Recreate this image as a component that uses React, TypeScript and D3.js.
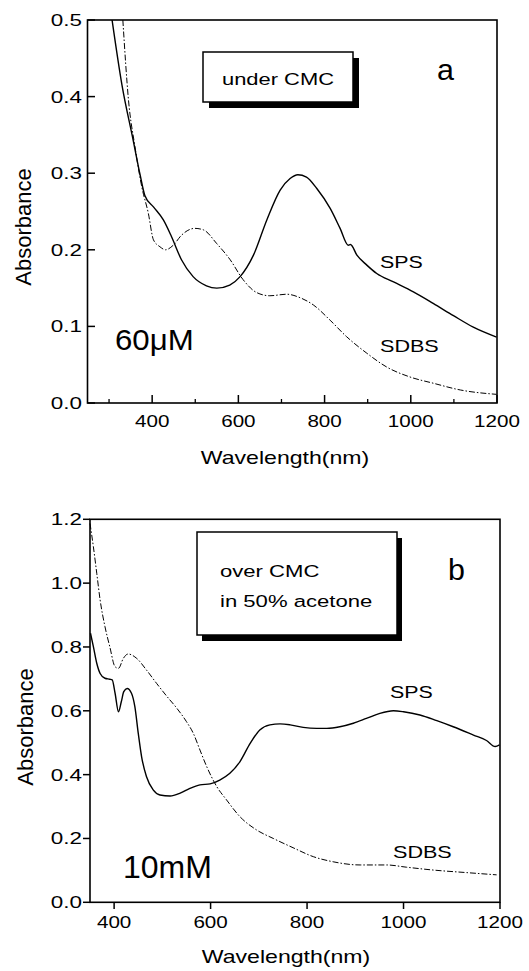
import React from "react";
import * as d3 from "d3";

// Panel a: 60 µM, under CMC
const spsA_wl = [307, 330, 356, 372, 383, 403, 426, 445, 468, 495, 526, 550, 580, 604, 635, 666, 697, 720, 738, 758, 782, 813, 836, 855, 860, 875, 898, 921, 960, 1006, 1052, 1099, 1145, 1199];
const spsA_abs = [0.5, 0.415, 0.343, 0.298, 0.271, 0.256, 0.239, 0.217, 0.187, 0.165, 0.153, 0.15, 0.154, 0.165, 0.193, 0.239, 0.278, 0.293, 0.298, 0.295, 0.28, 0.254, 0.228, 0.206, 0.207, 0.193, 0.18, 0.169, 0.158, 0.145, 0.13, 0.114, 0.099, 0.086];
const sdbsA_wl = [332, 345, 360, 376, 391, 403, 418, 431, 449, 468, 499, 519, 550, 581, 611, 643, 673, 712, 743, 774, 813, 851, 898, 944, 998, 1053, 1115, 1199];
const sdbsA_abs = [0.5, 0.396, 0.335, 0.282, 0.248, 0.213, 0.204, 0.2, 0.206, 0.219, 0.228, 0.226, 0.208, 0.187, 0.161, 0.144, 0.14, 0.142, 0.1375, 0.128, 0.108, 0.0866, 0.065, 0.047, 0.034, 0.0257, 0.017, 0.0113];

// Panel b: 10 mM, over CMC in 50% acetone
const spsB_wl = [351, 357, 364, 371, 381, 391, 396, 402, 409, 415, 420, 427, 436, 443, 450, 457, 467, 481, 495, 516, 537, 557, 578, 599, 619, 640, 661, 682, 702, 723, 744, 765, 792, 820, 841, 868, 896, 923, 951, 979, 1000, 1034, 1069, 1103, 1145, 1172, 1190, 1199];
const spsB_abs = [0.843, 0.801, 0.749, 0.717, 0.702, 0.699, 0.697, 0.655, 0.597, 0.629, 0.66, 0.67, 0.655, 0.613, 0.53, 0.456, 0.394, 0.352, 0.336, 0.333, 0.342, 0.357, 0.368, 0.371, 0.383, 0.404, 0.441, 0.498, 0.54, 0.556, 0.559, 0.556, 0.548, 0.545, 0.545, 0.55, 0.561, 0.576, 0.592, 0.6, 0.597, 0.587, 0.569, 0.55, 0.524, 0.507, 0.488, 0.493];
const sdbsB_wl = [350, 357, 364, 371, 381, 391, 402, 409, 419, 429, 447, 467, 488, 509, 530, 550, 564, 578, 592, 613, 633, 661, 695, 730, 771, 813, 854, 910, 965, 1006, 1062, 1131, 1193];
const sdbsB_abs = [1.187, 1.114, 1.031, 0.947, 0.864, 0.801, 0.738, 0.733, 0.764, 0.778, 0.764, 0.728, 0.686, 0.646, 0.608, 0.566, 0.53, 0.477, 0.425, 0.362, 0.321, 0.268, 0.227, 0.2, 0.171, 0.143, 0.127, 0.117, 0.117, 0.11, 0.101, 0.093, 0.086];

const ticksA_x = [400, 600, 800, 1000, 1200];
const minorA_x = [300, 500, 700, 900, 1100];
const ticksA_y = [0, 0.1, 0.2, 0.3, 0.4, 0.5];
const ticksB_x = [400, 600, 800, 1000, 1200];
const ticksB_y = [0, 0.2, 0.4, 0.6, 0.8, 1.0, 1.2];

const FONT = "'Liberation Sans', Arial, Helvetica, sans-serif";

type TProps = {
  x: number;
  y: number;
  size: number;
  sx?: number;
  anchor?: "start" | "middle" | "end";
  rotate?: number;
  children: React.ReactNode;
};

function Label({ x, y, size, sx = 1, anchor = "start", rotate = 0, children }: TProps) {
  return (
    <text
      transform={`translate(${x},${y}) rotate(${rotate}) scale(${sx},1)`}
      fontFamily={FONT}
      fontSize={size}
      textAnchor={anchor}
      fill="#000"
    >
      {children}
    </text>
  );
}

function zip(w: number[], a: number[]) {
  return w.map((v, i) => [v, a[i]] as [number, number]);
}

export default function App() {
  // panel scales
  const xA = d3.scaleLinear().domain([250, 1200]).range([87.5, 497]);
  const yA = d3.scaleLinear().domain([0, 0.5]).range([403, 20]);
  const xB = d3.scaleLinear().domain([350, 1200]).range([90, 500]);
  const yB = d3.scaleLinear().domain([0, 1.2]).range([902.3, 519.3]);

  const lineA = d3
    .line<[number, number]>()
    .x((d) => xA(d[0]))
    .y((d) => yA(d[1]))
    .curve(d3.curveMonotoneX);
  const lineB = d3
    .line<[number, number]>()
    .x((d) => xB(d[0]))
    .y((d) => yB(d[1]))
    .curve(d3.curveMonotoneX);

  const dashDot = "6,2,1.5,2";
  const tickSize = 16.5;
  const tickSx = 1.25;
  const yTickSx = 1.36;

  return (
    <svg
      width={529}
      height={971}
      style={{ position: "absolute", left: 0, top: 0, background: "#fff" }}
    >
      <rect width={529} height={971} fill="#fff" />

      {/* ---------- panel a ---------- */}
      <g>
        <path d={lineA(zip(sdbsA_wl, sdbsA_abs)) || ""} fill="none" stroke="#000" strokeWidth={1} strokeDasharray={dashDot} />
        <path d={lineA(zip(spsA_wl, spsA_abs)) || ""} fill="none" stroke="#000" strokeWidth={1.4} />
        <rect x={87.5} y={20} width={409.5} height={383} fill="none" stroke="#000" strokeWidth={1.6} />
        {ticksA_x.map((t) => (
          <g key={"ax" + t}>
            <line x1={xA(t)} x2={xA(t)} y1={403} y2={395} stroke="#000" strokeWidth={1.5} />
            <Label x={xA(t)} y={427} size={tickSize} sx={tickSx} anchor="middle">{t}</Label>
          </g>
        ))}
        {minorA_x.map((t) => (
          <line key={"am" + t} x1={xA(t)} x2={xA(t)} y1={403} y2={399} stroke="#000" strokeWidth={1.3} />
        ))}
        {ticksA_y.map((t) => (
          <g key={"ay" + t}>
            <line x1={87.5} x2={95} y1={yA(t)} y2={yA(t)} stroke="#000" strokeWidth={1.5} />
            <Label x={82} y={yA(t) + 6} size={tickSize} sx={yTickSx} anchor="end">{t.toFixed(1)}</Label>
          </g>
        ))}
        <Label x={285} y={464} size={17.5} sx={1.32} anchor="middle">Wavelength(nm)</Label>
        <Label x={31} y={227} size={22} anchor="middle" rotate={-90}>Absorbance</Label>

        <rect x={209} y={58} width={150} height={50} fill="#000" />
        <rect x={203} y={52} width={150} height={50} fill="#fff" stroke="#000" strokeWidth={1.5} />
        <Label x={278} y={85} size={17} sx={1.29} anchor="middle">under CMC</Label>
        <Label x={437} y={80} size={29} sx={1.05}>a</Label>

        <Label x={380} y={268} size={17} sx={1.26}>SPS</Label>
        <Label x={380} y={352} size={17} sx={1.27}>SDBS</Label>
        <Label x={115} y={350} size={30} sx={1.04}>60μM</Label>
      </g>

      {/* ---------- panel b ---------- */}
      <g>
        <path d={lineB(zip(sdbsB_wl, sdbsB_abs)) || ""} fill="none" stroke="#000" strokeWidth={1} strokeDasharray={dashDot} />
        <path d={lineB(zip(spsB_wl, spsB_abs)) || ""} fill="none" stroke="#000" strokeWidth={1.4} />
        <rect x={90} y={519.3} width={410} height={383} fill="none" stroke="#000" strokeWidth={1.6} />
        {ticksB_x.map((t) => (
          <g key={"bx" + t}>
            <line x1={xB(t)} x2={xB(t)} y1={902.3} y2={909} stroke="#000" strokeWidth={1.5} />
            <Label x={xB(t)} y={928} size={tickSize} sx={tickSx} anchor="middle">{t}</Label>
          </g>
        ))}
        {ticksB_y.map((t) => (
          <g key={"by" + t}>
            <line x1={83} x2={90} y1={yB(t)} y2={yB(t)} stroke="#000" strokeWidth={1.5} />
            <Label x={82} y={yB(t) + 6} size={tickSize} sx={yTickSx} anchor="end">{t.toFixed(1)}</Label>
          </g>
        ))}
        <Label x={286} y={963} size={17.5} sx={1.32} anchor="middle">Wavelength(nm)</Label>
        <Label x={33} y={727} size={22} anchor="middle" rotate={-90}>Absorbance</Label>

        <rect x={202} y={538} width={200} height={103} fill="#000" />
        <rect x={197} y={532} width={200} height={103} fill="#fff" stroke="#000" strokeWidth={1.5} />
        <Label x={220} y={577} size={17} sx={1.3}>over CMC</Label>
        <Label x={220} y={607} size={17} sx={1.3}>in 50% acetone</Label>
        <Label x={448} y={580} size={29} sx={1.05}>b</Label>

        <Label x={390} y={698} size={17} sx={1.26}>SPS</Label>
        <Label x={393} y={858} size={17} sx={1.27}>SDBS</Label>
        <Label x={123} y={878} size={32}>10mM</Label>
      </g>
    </svg>
  );
}
